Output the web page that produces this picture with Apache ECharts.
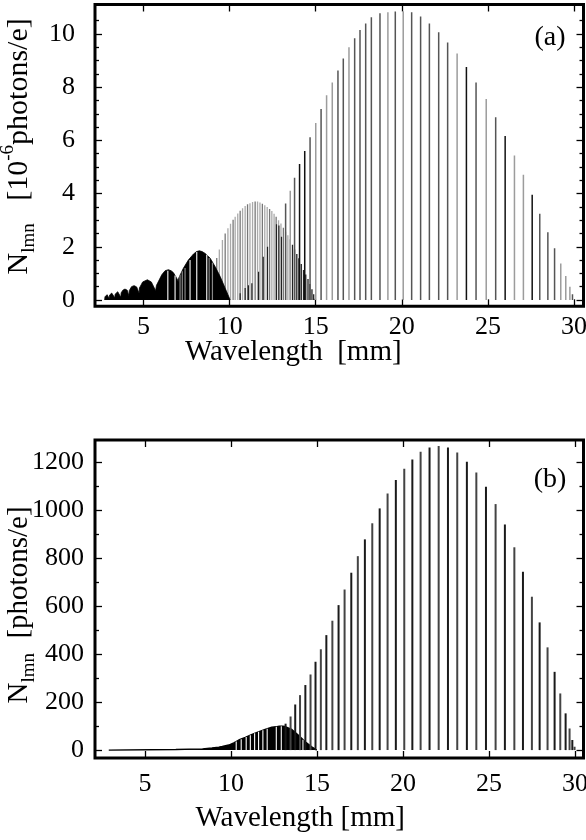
<!DOCTYPE html>
<html><head><meta charset="utf-8">
<script src="https://cdn.jsdelivr.net/npm/echarts@6/dist/echarts.min.js"></script>
<style>html,body{margin:0;padding:0;background:#fff}#c{width:586px;height:840px}</style>
</head><body><div id="c"></div>
<script>
// ---------- tick labels ----------
const xTicks = [5, 10, 15, 20, 25, 30];
const yTicksA = [0, 2, 4, 6, 8, 10];
const yMinorA = [0.5, 1, 1.5, 2.5, 3, 3.5, 4.5, 5, 5.5, 6.5, 7, 7.5, 8.5, 9, 9.5, 10.5];
const yTicksB = [0, 200, 400, 600, 800, 1000, 1200];
const yMinorB = [100, 300, 500, 700, 900, 1100];

// ---------- panel (a) data ----------
const aDenseEnvelope = [
  [2.74,0],[2.76,0.12],[2.8,0.18],[2.88,0.2],[2.96,0.17],[3.0,0.06],
  [3.02,0.18],[3.08,0.24],[3.15,0.26],[3.25,0.23],[3.33,0.08],
  [3.35,0.22],[3.42,0.29],[3.5,0.31],[3.6,0.28],[3.68,0.1],
  [3.7,0.27],[3.8,0.37],[3.92,0.41],[4.05,0.37],[4.15,0.15],
  [4.17,0.35],[4.3,0.5],[4.45,0.54],[4.6,0.49],[4.74,0.25],
  [4.76,0.45],[4.95,0.68],[5.22,0.76],[5.45,0.68],[5.7,0.35],
  [5.75,0.55],[6.06,0.95],[6.25,1.1],[6.44,1.14],[6.6,1.1],[6.73,1.03],[6.9,0.85],[7.02,0.7],
  [7.04,0.82],[7.31,1.19],[7.6,1.5],[7.9,1.73],[8.08,1.82],[8.24,1.85],[8.4,1.82],[8.58,1.75],
  [8.87,1.57],[9.16,1.25],[9.45,0.88],[9.74,0.44],[9.9,0.2],[10.03,0]
];
const aLobeX = [9.1,9.25,9.4,9.58,9.74,9.9,10.05,10.2,10.32,10.47,10.61,10.75,10.9,11.04,11.18,11.33,11.48,11.62,11.76,11.9,12.04,12.18,12.32,12.45,12.58,12.7,12.84,12.98,13.12,13.25,13.38,13.52,13.65,13.77,13.9,14.02,14.16,14.29,14.42,14.55,14.66,14.78,14.88,14.97];
const aLobeY = [1.3,1.58,1.9,2.26,2.5,2.7,2.87,3.02,3.13,3.25,3.36,3.45,3.53,3.6,3.64,3.68,3.7,3.7,3.67,3.62,3.56,3.5,3.42,3.35,3.24,3.13,3.0,2.88,2.72,2.57,2.43,2.28,2.08,1.9,1.73,1.57,1.35,1.13,0.96,0.79,0.6,0.4,0.22,0.05];
const aInnerX = [10.61,10.9,11.09,11.29,11.68,11.95,12.2,12.72,12.86,13.01];
const aInnerY = [0.25,0.45,0.55,0.63,1.06,1.63,2.0,2.85,2.8,2.38];
const aGapX = [6.41,6.83,7.7,8.09,8.67];
const aGapY = [1.1,0.92,1.5,1.8,1.7];
const aGrayInX = [7.12,7.25,7.41,8.81,9.0];
const aGrayInY = [0.95,1.08,1.2,1.58,1.4];
const aSparseX = [13.25,13.52,13.77,14.06,14.36,14.67,15.0,15.31,15.63,15.96,16.29,16.6,16.93,17.26,17.57,17.9,18.23,18.73,19.19,19.62,20.08,20.57,21.09,21.6,22.14,22.66,23.21,23.75,24.31,24.9,25.45,26.0,26.54,27.06,27.57,28.01,28.48,28.87,29.23,29.52,29.76,29.91];
const aSparseY = [3.63,4.11,4.6,5.11,5.6,6.12,6.65,7.18,7.7,8.18,8.63,9.08,9.5,9.84,10.15,10.4,10.63,10.78,10.82,10.85,10.86,10.82,10.66,10.4,10.07,9.68,9.27,8.76,8.18,7.56,6.87,6.17,5.43,4.71,3.96,3.24,2.55,1.95,1.37,0.9,0.5,0.22];

// ---------- panel (b) data ----------
const bDenseEnvelope = [
  [2.9,0],[2.9,2.5],[6.8,2.5],[6.8,4.5],[8.35,5],[8.35,7.5],[8.9,8.5],[8.9,10.5],[9.3,12],[9.5,15],
  [9.88,21],[10.17,30],[10.46,42],[10.84,53],[11.23,65],[11.6,76],[11.99,86],[12.38,95],[12.77,99],
  [13.0,100],[13.15,98],[13.54,86],[13.93,62],[14.32,35],[14.7,14],[14.99,0]
];
const bGapX = [10.31,10.6,10.89,11.13,11.38,11.61,11.86,12.11,12.64,12.93,14.19];
const bGapY = [36,45,55,62,70,76,83,89,97,99,43];
const bSparseX = [13.18,13.47,13.74,14.02,14.33,14.63,14.92,15.23,15.55,15.9,16.26,16.61,17.0,17.38,17.79,18.22,18.65,19.11,19.59,20.08,20.55,21.03,21.55,22.08,22.62,23.16,23.72,24.27,24.83,25.39,25.93,26.48,26.98,27.5,27.95,28.41,28.82,29.15,29.46,29.69,29.85,29.98];
const bSparseY = [110,140,190,229,271,315,368,420,479,539,604,669,739,808,878,945,1007,1069,1125,1172,1211,1243,1261,1267,1261,1240,1201,1157,1097,1025,940,845,743,639,532,428,326,236,153,90,42,14];

// ---------- styles ----------
const aSparseShade = 'dldkkdldllddldddddldldddddlkdldkllkdddllld';
const SHADE = { d: '#555', l: '#9c9c9c', k: '#111', m: '#777' };
const FONT = '"Liberation Serif", "Times New Roman", serif';
const TICK_FS = 26, TITLE_FS = 29;

function sticks(xs, ys, w, colorOf, xi, yi, z) {
  return {
    type: 'custom', xAxisIndex: xi, yAxisIndex: yi, z: z, silent: true, clip: true,
    data: xs.map((x, i) => [x, ys[i]]),
    encode: { x: 0, y: 1 },
    renderItem: (params, api) => {
      const x = api.value(0), y = api.value(1);
      const b = api.coord([x, 0]), t = api.coord([x, y]);
      return { type: 'rect', shape: { x: b[0] - w / 2, y: t[1], width: w, height: b[1] - t[1] },
               style: { fill: colorOf(params.dataIndex, x) } };
    }
  };
}
function area(pts, xi, yi, z, lw) {
  return { type: 'line', xAxisIndex: xi, yAxisIndex: yi, z: z, data: pts, symbol: 'none', silent: true,
           lineStyle: { color: '#000', width: lw }, areaStyle: { color: '#000', opacity: 1, origin: 0 } };
}

function xAxis(grid, min, max, bottom, nameText, gap, margin, shift) {
  return {
    type: 'value', gridIndex: grid, min: min, max: max, position: bottom ? 'bottom' : 'top',
    axisLine: { show: false, onZero: false }, splitLine: { show: false },
    axisTick: { show: true, inside: true, length: 7, customValues: xTicks, lineStyle: { color: '#000', width: 1.3 } },
    axisLabel: { show: bottom, customValues: xTicks, fontFamily: FONT, fontSize: TICK_FS, color: '#000', margin: margin },
    name: bottom ? nameText : '', nameLocation: 'middle', nameGap: gap, nameMoveOverlap: false,
    nameTextStyle: { fontFamily: FONT, fontSize: TITLE_FS, color: '#000', padding: [0, shift || 0, 0, 0] }
  };
}
function yAxis(grid, min, max, pos, vals, len, labels, margin, nameRich, gap, pad, fs) {
  const f = fs || TITLE_FS;
  return {
    type: 'value', gridIndex: grid, min: min, max: max, position: pos,
    axisLine: { show: false, onZero: false }, splitLine: { show: false },
    axisTick: { show: true, inside: true, length: len, customValues: vals, lineStyle: { color: '#000', width: 1.3 } },
    axisLabel: { show: labels, customValues: vals, fontFamily: FONT, fontSize: TICK_FS, color: '#000', margin: margin || 8,
                 formatter: (v) => String(v) },
    name: nameRich || '', nameLocation: 'middle', nameRotate: 90, nameGap: gap || 0, nameMoveOverlap: false,
    nameTextStyle: {
      padding: pad || [0, 0, 0, 0],
      rich: {
        n: { fontFamily: FONT, fontSize: f, color: '#000', lineHeight: 40, verticalAlign: 'middle' },
        s: { fontFamily: FONT, fontSize: 19, color: '#000', lineHeight: 40, verticalAlign: 'bottom' },
        p: { fontFamily: FONT, fontSize: 19, color: '#000', lineHeight: 40, verticalAlign: 'top' }
      }
    }
  };
}

const AX = [2.18, 30.55], AY = [-0.237, 11.11];
const BX = [2.1, 30.5], BY = [-33, 1292];

const gridBase = { show: true, borderColor: '#000', borderWidth: 3, backgroundColor: 'transparent',
                   containLabel: false, outerBoundsMode: 'none' };

const option = {
  animation: false,
  backgroundColor: '#fff',
  grid: [
    Object.assign({ left: 95, top: 4.5, width: 488.5, height: 301.8 }, gridBase),
    Object.assign({ left: 95, top: 440, width: 488.5, height: 318 }, gridBase)
  ],
  xAxis: [
    xAxis(0, AX[0], AX[1], true, 'Wavelength  [mm]', 32, 8, 92),
    xAxis(0, AX[0], AX[1], false, '', 0, 0),
    xAxis(1, BX[0], BX[1], true, 'Wavelength [mm]', 46, 13, 78),
    xAxis(1, BX[0], BX[1], false, '', 0, 0)
  ],
  yAxis: [
    yAxis(0, AY[0], AY[1], 'left', yTicksA, 7, true, 20, '{n|N}{s|lmn}{n|   [10}{p|-6}{n|photons/e]}', 56, [0, 0, 0, 18], 30),
    yAxis(0, AY[0], AY[1], 'left', yMinorA, 4, false),
    yAxis(0, AY[0], AY[1], 'right', yTicksA, 7, false),
    yAxis(0, AY[0], AY[1], 'right', yMinorA, 4, false),
    yAxis(1, BY[0], BY[1], 'left', yTicksB, 7, true, 11, '{n|N}{s|lmn}{n|  [photons/e]}', 56, [0, 12, 0, 0], 29),
    yAxis(1, BY[0], BY[1], 'left', yMinorB, 4, false),
    yAxis(1, BY[0], BY[1], 'right', yTicksB, 7, false),
    yAxis(1, BY[0], BY[1], 'right', yMinorB, 4, false)
  ],
  series: [
    sticks(aLobeX, aLobeY, 1.3, (i, x) => x > 13.55 ? '#222' : (i % 3 === 1 ? SHADE.m : '#aaa'), 0, 0, 2),
    area(aDenseEnvelope, 0, 0, 3, 0.8),
    sticks(aGapX, aGapY, 1.1, () => '#fff', 0, 0, 4),
    sticks(aGrayInX, aGrayInY, 1.2, () => '#888', 0, 0, 4),
    sticks(aInnerX, aInnerY, 1.2, () => '#222', 0, 0, 4),
    sticks(aSparseX, aSparseY, 1.5, (i) => SHADE[aSparseShade[i]], 0, 0, 5),
    area(bDenseEnvelope, 2, 4, 3, 1.4),
    sticks(bGapX, bGapY, 1.1, () => '#fff', 2, 4, 4),
    sticks(bSparseX, bSparseY, 2, (i) => (i % 2 ? '#444' : '#1a1a1a'), 2, 4, 5)
  ],
  graphic: [
    { type: 'text', x: 550, y: 38, style: { text: '(a)', font: '28px ' + FONT, fill: '#000', textAlign: 'center', textVerticalAlign: 'middle', align: 'center', verticalAlign: 'middle' } },
    { type: 'text', x: 550, y: 480, style: { text: '(b)', font: '28px ' + FONT, fill: '#000', textAlign: 'center', textVerticalAlign: 'middle', align: 'center', verticalAlign: 'middle' } }
  ]
};

const chart = echarts.init(document.getElementById('c'), null, { renderer: 'canvas' });
chart.setOption(option);
</script></body></html>
